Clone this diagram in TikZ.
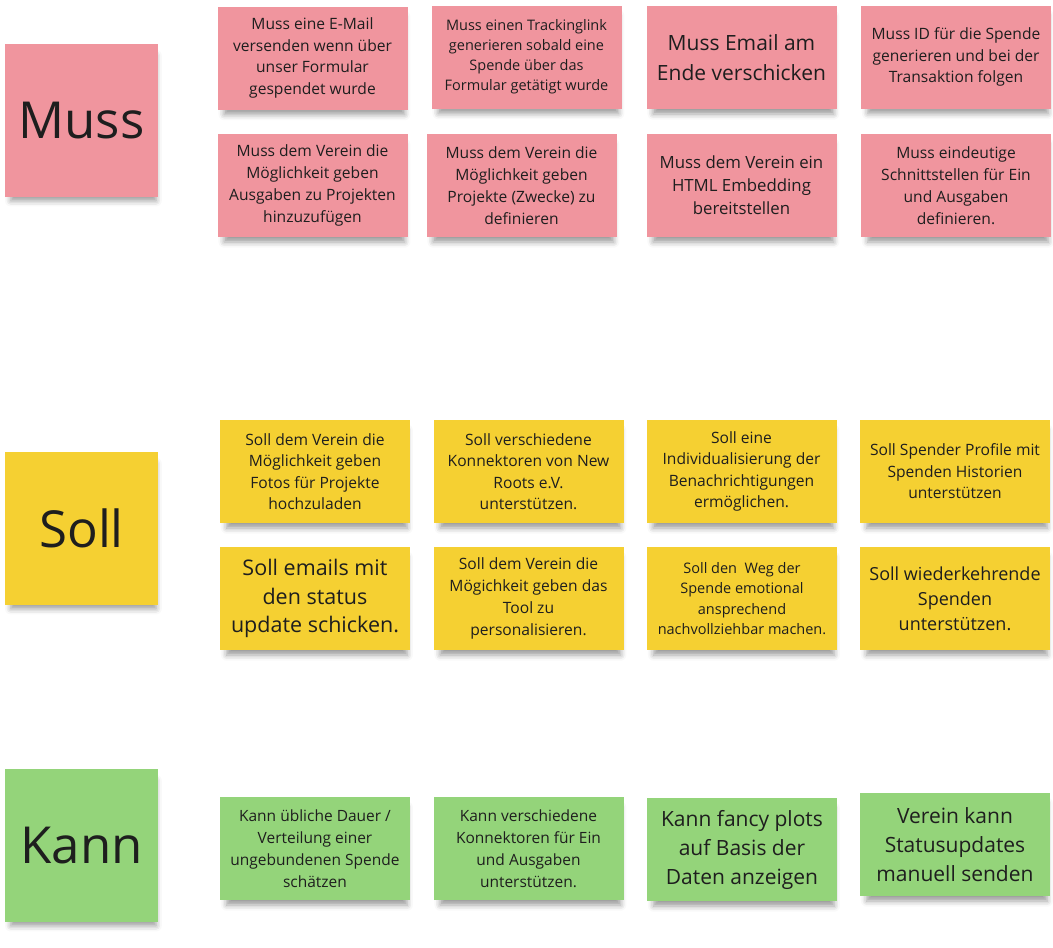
\documentclass[tikz,border=0pt]{standalone}
\usepackage{fontspec}
\setmainfont{Open Sans}
\usetikzlibrary{shadows.blur}

\definecolor{stickyR}{RGB}{240,149,158}
\definecolor{stickyY}{RGB}{245,208,50}
\definecolor{stickyG}{RGB}{148,212,122}
\definecolor{ink}{RGB}{30,30,30}

\begin{document}
\begin{tikzpicture}
[x=1pt,y=-1pt,
note/.style ={rectangle, text=ink, inner sep=0pt,
minimum width=190pt, minimum height=103pt, align=center,
font=\fontsize{15.6}{21.5}\selectfont,
blur shadow={shadow xshift=2pt, shadow yshift=-8pt, shadow scale=0.95,
shadow blur radius=6pt, shadow opacity=40}},
noteR/.style ={note, fill=stickyR},
noteY/.style ={note, fill=stickyY},
noteG/.style ={note, fill=stickyG},
head/.style ={minimum width=153pt, minimum height=153pt,
font=\fontsize{51}{60}\selectfont}]
\useasboundingbox (0,0) rectangle (1053,948);
% Muss: big note and two rows
\node [noteR,head] (muss) at (81.5,120.5) {Muss};
\node [noteR] (mail) at (312.5,58) {Muss eine E-Mail\\versenden wenn über\\unser Formular\\gespendet wurde};
\node [noteR,font=\fontsize{14.5}{20}\selectfont] (track) at (526.5,57) {Muss einen Trackinglink\\generieren sobald eine\\Spende über das\\Formular getätigt wurde};
\node [noteR,font=\fontsize{21}{30}\selectfont] (email) at (741.5,57.5) {Muss Email am\\Ende verschicken};
\node [noteR] (id) at (956,57) {Muss ID für die Spende\\generieren und bei der\\Transaktion folgen};
\node [noteR,font=\fontsize{15.6}{22}\selectfont] (ausg) at (312.5,185.5) {Muss dem Verein die\\Möglichkeit geben\\Ausgaben zu Projekten\\hinzuzufügen};
\node [noteR,font=\fontsize{15.6}{22}\selectfont] (proj) at (521.5,185.5) {Muss dem Verein die\\Möglichkeit geben\\Projekte (Zwecke) zu\\definieren};
\node [noteR,font=\fontsize{16.8}{23}\selectfont] (html) at (741.5,185.5) {Muss dem Verein ein\\HTML Embedding\\bereitstellen};
\node [noteR,font=\fontsize{15.6}{22}\selectfont] (schnitt) at (956,185.5) {Muss eindeutige\\Schnittstellen für Ein\\und Ausgaben\\definieren.};
% Soll: big note and two rows
\node [noteY,head] (soll) at (81.5,528.5) {Soll};
\node [noteY] (fotos) at (315,471.5) {Soll dem Verein die\\Möglichkeit geben\\Fotos für Projekte\\hochzuladen};
\node [noteY] (konn) at (528.5,471.5) {Soll verschiedene\\Konnektoren von New\\Roots e.V.\\unterstützen.};
\node [noteY] (indiv) at (741.5,471.5) {Soll eine\\Individualisierung der\\Benachrichtigungen\\ermöglichen.};
\node [noteY] (profil) at (955,471.5) {Soll Spender Profile mit\\Spenden Historien\\unterstützen};
\node [noteY,font=\fontsize{21.5}{28.5}\selectfont] (status) at (315,598.5) {Soll emails mit\\den status\\update schicken.};
\node [noteY,font=\fontsize{15.6}{22}\selectfont] (tool) at (528.5,598.5) {Soll dem Verein die\\Mögichkeit geben das\\Tool zu\\personalisieren.};
\node [noteY,font=\fontsize{14.5}{20.3}\selectfont] (weg) at (742,598.5) {Soll den\ \ Weg der\\Spende emotional\\ansprechend\\nachvollziehbar machen.};
\node [noteY,font=\fontsize{18}{25}\selectfont] (wieder) at (955,598.5) {Soll wiederkehrende\\Spenden\\unterstützen.};
% Kann: big note and one row
\node [noteG,head] (kann) at (81.5,845.5) {Kann};
\node [noteG,font=\fontsize{15.5}{22}\selectfont] (dauer) at (315,848.5) {Kann übliche Dauer /\\Verteilung einer\\ungebundenen Spende\\schätzen};
\node [noteG,font=\fontsize{15.5}{22}\selectfont] (einaus) at (528.5,848.5) {Kann verschiedene\\Konnektoren für Ein\\und Ausgaben\\unterstützen.};
\node [noteG,font=\fontsize{21}{29}\selectfont] (plots) at (742,849.5) {Kann fancy plots\\auf Basis der\\Daten anzeigen};
\node [noteG,font=\fontsize{21}{29}\selectfont] (manuell) at (955,844.5) {Verein kann\\Statusupdates\\manuell senden};
\end{tikzpicture}
\end{document}
